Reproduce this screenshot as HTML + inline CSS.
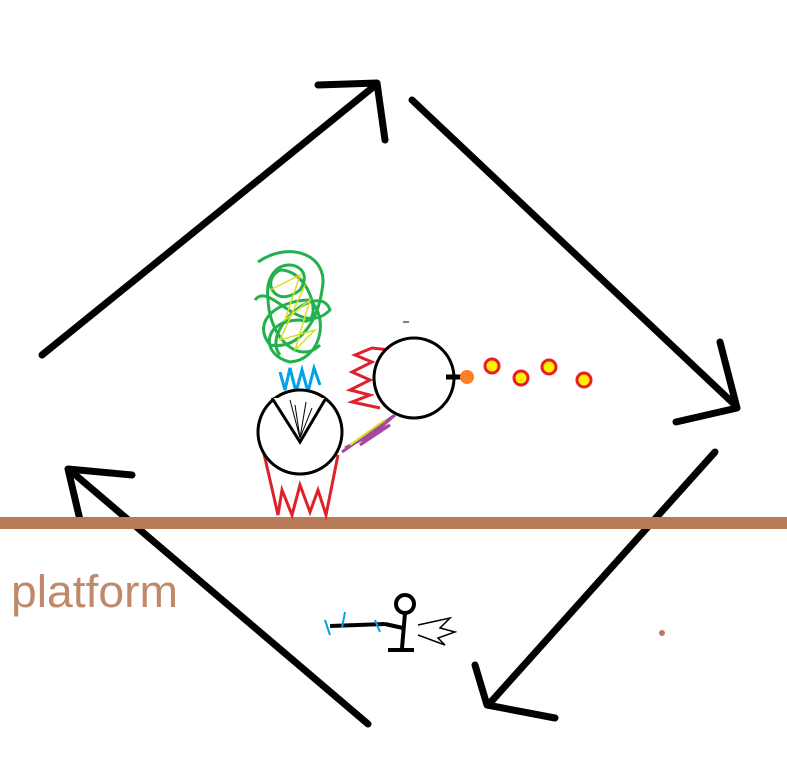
<!DOCTYPE html>
<html><head><meta charset="utf-8"><style>
html,body{margin:0;padding:0;background:#fff;width:787px;height:776px;overflow:hidden}
svg{display:block}
</style></head><body>
<svg width="787" height="776" viewBox="0 0 787 776" xmlns="http://www.w3.org/2000/svg">
<rect width="787" height="776" fill="#fff"/>
<g stroke="#000" stroke-width="7" fill="none" stroke-linecap="round" stroke-linejoin="round">
<line x1="42" y1="355" x2="372" y2="88"/>
<polyline points="318,85 377,83 385,140"/>
<line x1="412" y1="100" x2="735" y2="405"/>
<polyline points="720,342 737,408 676,422"/>
<line x1="715" y1="452" x2="490" y2="703"/>
<polyline points="475,665 487,705 555,718"/>
<line x1="368" y1="724" x2="72" y2="472"/>
<polyline points="132,475 68,469 80,520"/>
</g>
<rect x="0" y="517" width="787" height="12" fill="#b97a57"/>
<text x="11" y="607" font-family="Liberation Sans, sans-serif" font-size="45" fill="#c0896a" textLength="167" lengthAdjust="spacingAndGlyphs">platform</text>
<!-- flames -->
<g stroke="#e0202a" stroke-width="3" fill="none">
<polyline points="262,445 278,515 282,490 292,515 300,485 310,512 318,490 326,515 338,455"/>
<polyline points="390,350 372,348 355,355 372,362 352,372 370,380 350,390 370,395 352,402 380,408"/>
</g>
<!-- green scribble -->
<g stroke="#22b14c" stroke-width="3" fill="none">
<path d="M258,262 C290,240 330,255 322,290 C318,320 300,350 270,345 C250,320 280,300 310,300 C330,320 320,360 290,362 C260,355 262,320 300,320 C325,330 312,270 280,270 C260,280 275,310 300,290 C320,260 262,250 268,300 C270,340 300,365 320,345"/>
<path d="M255,300 C270,280 300,340 330,310 C320,280 260,330 280,355"/>
</g>
<g stroke="#d8e020" stroke-width="1.5" fill="none">
<path d="M270,290 L300,275 L285,320 L310,300 L295,350 L315,330 L280,340 L305,285"/>
</g>
<g stroke="#00a2e8" stroke-width="3" fill="none">
<path d="M280,372 L285,390 L290,368 L296,392 L302,370 L308,392 L314,368 L320,385"/>
</g>
<!-- circles -->
<g stroke="#000" stroke-width="3" fill="#fff">
<circle cx="300" cy="432" r="42"/>
<circle cx="414" cy="378" r="40"/>
</g>
<polyline points="272,398 300,442 326,398" stroke="#000" stroke-width="3" fill="#fff"/>
<g stroke="#000" stroke-width="1" fill="none"><path d="M290,400 L300,438 M295,405 L300,438 L306,402 M300,438 L312,408"/></g>
<line x1="446" y1="377" x2="462" y2="377" stroke="#000" stroke-width="5"/>
<circle cx="467" cy="377" r="7" fill="#ff7f27"/>
<g fill="#fff200" stroke="#ed1c24" stroke-width="3">
<circle cx="492" cy="366" r="7"/><circle cx="521" cy="378" r="7"/>
<circle cx="549" cy="367" r="7"/><circle cx="584" cy="380" r="7"/>
</g>
<!-- purple scribble -->
<path d="M342,452 L395,415 L360,445 L390,425 L345,448" stroke="#a349a4" stroke-width="3" fill="none"/>
<path d="M350,445 L385,420" stroke="#d8e020" stroke-width="2"/>
<!-- stick figure -->
<g stroke="#000" stroke-width="4" fill="none">
<circle cx="405" cy="604" r="9"/>
<line x1="405" y1="613" x2="402" y2="648"/>
<line x1="388" y1="650" x2="414" y2="650"/>
<line x1="330" y1="626" x2="385" y2="624"/>
<line x1="385" y1="624" x2="403" y2="628"/>
</g>
<g stroke="#00a2e8" stroke-width="2" fill="none"><path d="M325,620 L330,635 M345,612 L342,628 M375,620 L380,632"/></g>
<path d="M418,625 L450,618 L440,628 L455,632 L438,638 L445,645 L418,635" stroke="#000" stroke-width="1.5" fill="none"/>
<circle cx="662" cy="633" r="3" fill="#b97a57"/>
<line x1="403" y1="322" x2="409" y2="322" stroke="#000" stroke-width="1"/>
</svg>
</body></html>
